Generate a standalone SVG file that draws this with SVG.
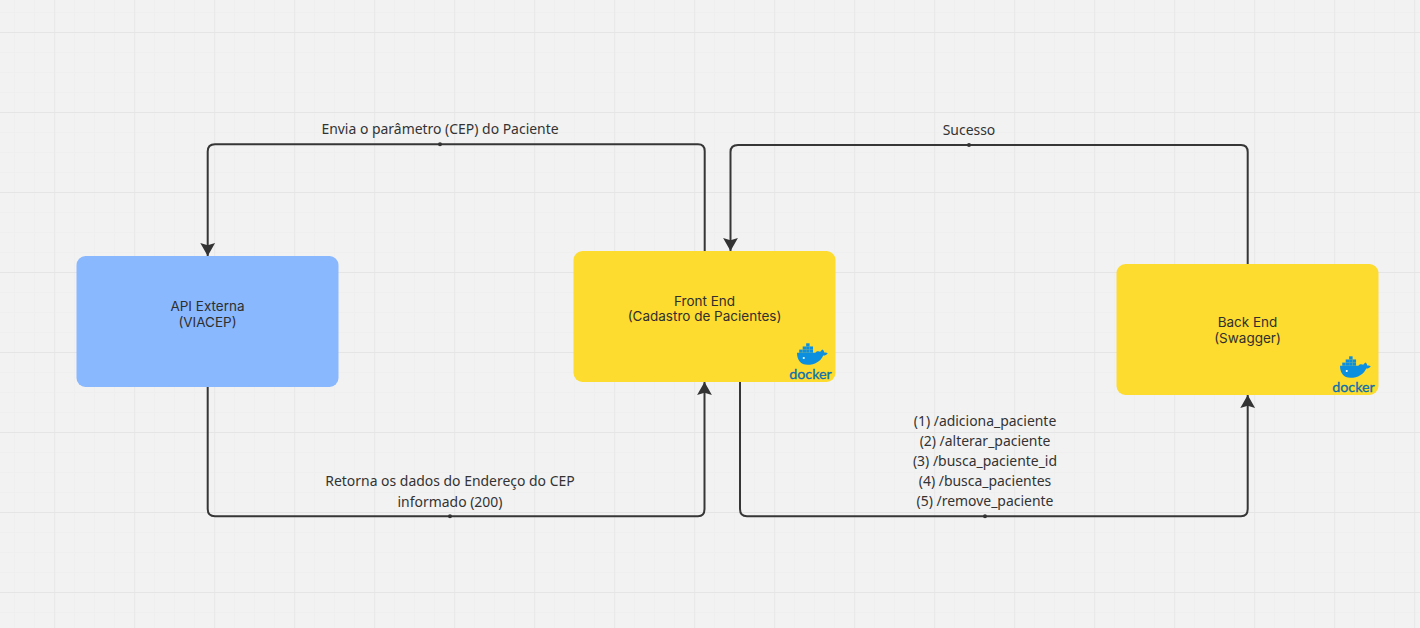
<svg xmlns="http://www.w3.org/2000/svg" width="1420" height="628" viewBox="0 0 1420 628">
<style>
.lbl{font-family:"Noto Sans","Open Sans",sans-serif;font-size:13.95px;fill:#333;text-anchor:middle}
.nt{font-family:"Inter","Noto Sans",sans-serif;font-size:13.5px;fill:#2f2f2f;text-anchor:middle}
.c{fill:none;stroke:#363636;stroke-width:2}
.dot{fill:#333}
.y{fill:#fedb2f}
.dk{font-family:"Lato","Noto Sans",sans-serif;font-size:14.300px;fill:#0a6fb0;text-anchor:middle;stroke:#0a6fb0;stroke-width:.3}
.wh{fill:#0d8fe0}
</style>
<defs>
<marker id="ah" viewBox="0 0 16 16" refX="14" refY="8" markerWidth="16" markerHeight="16" markerUnits="userSpaceOnUse" orient="auto">
<path d="M14 8L1 .6 3.200 8 1 15.400Z" fill="#333"/>
</marker>
<pattern id="minor" width="20" height="20" patternUnits="userSpaceOnUse" x="14" y="12">
<path d="M.5 0V20M0 .5H20" fill="none" stroke="#efefef" stroke-width="1"/>
</pattern>
<pattern id="major" width="80" height="80" patternUnits="userSpaceOnUse" x="54" y="32">
<path d="M.5 0V80" fill="none" stroke="#e9e9e9" stroke-width="1.500"/>
<path d="M0 .5H80" fill="none" stroke="#e5e5e5" stroke-width="1"/>
</pattern>
<g id="docker" transform="scale(.75)">
<g class="wh">
<path d="M0 9H24.500C26 7 29 6.600 31 7.800 32 5.500 33.600 4.800 34 4.500 35.600 5.800 36.400 7.400 36.300 8.800 38 8.300 39.500 8.600 41 9.500 39.600 12 37 12.700 35 12.600 31.500 20.500 24 25 14 25 5 25 0 19 0 9Z"/>
<rect x="3" y="4.800" width="4.600" height="4.200"/><rect x="7.600" y="4.800" width="4.600" height="4.200"/><rect x="12.200" y="4.800" width="4.600" height="4.200"/><rect x="16.800" y="4.800" width="4.600" height="4.200"/>
<rect x="7.600" y="0.600" width="4.600" height="4.200"/><rect x="12.200" y="0.600" width="4.600" height="4.200"/><rect x="16.800" y="0.600" width="4.600" height="4.200"/>
<rect x="12.200" y="-3.600" width="4.600" height="4.200"/>
</g>
<circle cx="9" cy="16" r="1.400" fill="#fff"/>
</g>
</defs>
<rect width="1420" height="628" fill="#f2f2f2"/>
<rect width="1420" height="628" fill="url(#minor)"/>
<rect width="1420" height="628" fill="url(#major)"/>

<g id="connectors">
<path class="c" marker-end="url(#ah)" d="M704.700 251V151Q704.700 144.200 698 144.200H215Q207.700 144.200 207.700 151.500V256"/>
<path class="c" marker-end="url(#ah)" d="M1247.700 264V152Q1247.700 145 1241 145H738Q730.500 145 730.500 152V251"/>
<path class="c" marker-end="url(#ah)" d="M207.700 387V509Q207.700 516.200 215 516.200H698Q704.500 516.200 704.500 509V382"/>
<path class="c" marker-end="url(#ah)" d="M740 382V509Q740 516.200 747 516.200H1241Q1247.700 516.200 1247.700 509V395"/>
<circle class="dot" cx="440" cy="144.200" r="2"/>
<circle class="dot" cx="969" cy="145" r="2"/>
<circle class="dot" cx="450" cy="516.200" r="2"/>
<circle class="dot" cx="985" cy="516.200" r="2"/>
<text class="lbl" x="440" y="134">Envia o parâmetro (CEP) do Paciente</text>
<text class="lbl" x="969" y="135">Sucesso</text>
<text class="lbl" x="450" y="486">Retorna os dados do Endereço do CEP</text>
<text class="lbl" x="450" y="507">informado (200)</text>
<text class="lbl" x="985" y="426">(1) /adiciona_paciente</text>
<text class="lbl" x="985" y="446">(2) /alterar_paciente</text>
<text class="lbl" x="985" y="466">(3) /busca_paciente_id</text>
<text class="lbl" x="985" y="486">(4) /busca_pacientes</text>
<text class="lbl" x="985" y="506">(5) /remove_paciente</text>
</g>

<g id="api-externa">
<rect x="76.500" y="256" width="262" height="131" rx="9" fill="#89b8ff"/>
<text class="nt" x="207.500" y="311">API Externa</text>
<text class="nt" x="207.500" y="327">(VIACEP)</text>
</g>
<g id="front-end">
<rect class="y" x="573.500" y="251" width="262" height="131" rx="9"/>
<text class="nt" x="704.500" y="306">Front End</text>
<text class="nt" x="704.500" y="321">(Cadastro de Pacientes)</text>
<use href="#docker" x="797" y="346"/>
<text class="dk" x="810.500" y="379">docker</text>
</g>
<g id="back-end">
<rect class="y" x="1116.500" y="264" width="262" height="131" rx="9"/>
<text class="nt" x="1247.500" y="327">Back End</text>
<text class="nt" x="1247.500" y="343">(Swagger)</text>
<use href="#docker" x="1340" y="359"/>
<text class="dk" x="1353.500" y="392">docker</text>
</g>
</svg>
